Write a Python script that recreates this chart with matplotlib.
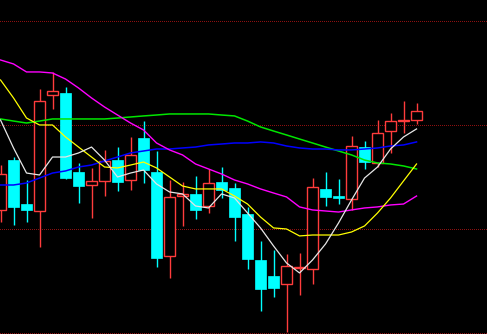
import matplotlib
matplotlib.use("Agg")
import matplotlib.pyplot as plt
from matplotlib.patches import Rectangle
import numpy as np

# K线数据 (开, 高, 低, 收)
opens = [21.83, 26.63, 22.40, 21.73, 32.88, 33.08, 25.48, 24.23, 24.62, 26.63,
         24.71, 28.75, 25.48, 17.40, 23.17, 23.37, 22.21, 24.52, 23.94, 21.44,
         17.02, 15.48, 14.71, 16.25, 16.15, 23.85, 23.17, 22.88, 27.88, 26.35,
         29.42, 30.38, 30.48]
highs = [26.15, 26.92, 24.71, 33.46, 35.10, 33.65, 26.35, 25.87, 27.60, 27.88,
         28.85, 30.38, 27.50, 24.71, 24.52, 25.10, 25.77, 25.96, 24.42, 22.12,
         18.85, 17.98, 17.60, 17.69, 24.90, 25.48, 24.81, 28.94, 28.46, 30.48,
         31.15, 32.31, 32.12]
lows = [20.67, 20.38, 20.67, 18.27, 31.54, 24.81, 22.50, 21.06, 23.17, 23.65,
        23.75, 24.42, 16.35, 15.29, 20.29, 20.96, 21.54, 22.98, 18.85, 16.15,
        12.12, 13.46, 10.10, 13.65, 14.71, 22.21, 22.40, 21.83, 25.77, 25.96,
        27.31, 29.23, 30.10]
closes = [25.29, 22.12, 21.83, 32.31, 33.27, 24.90, 24.13, 24.62, 26.54, 24.52,
          27.12, 25.67, 17.21, 23.08, 23.37, 21.83, 24.42, 23.75, 21.15, 17.12,
          14.23, 14.33, 16.44, 16.35, 24.04, 23.08, 22.98, 27.98, 26.44, 29.23,
          30.38, 30.48, 31.35]

# 均线
ma5 = [30.48, 27.79, 25.38, 25.19, 26.92, 26.92, 27.31, 27.88, 26.63, 25.00,
       25.38, 25.67, 24.33, 23.56, 23.37, 22.21, 22.02, 23.37, 22.98, 21.54,
       20.10, 18.37, 16.73, 15.77, 17.02, 18.56, 20.58, 22.79, 24.90, 25.96,
       27.69, 28.85, 29.62]
ma10 = [34.33, 32.60, 30.67, 30.00, 30.00, 28.85, 27.88, 26.92, 25.96, 25.87,
        26.15, 26.44, 25.87, 25.00, 24.13, 23.85, 23.85, 23.85, 23.17, 22.40,
        21.15, 20.10, 20.00, 19.33, 19.42, 19.42, 19.42, 19.71, 20.29, 21.54,
        22.98, 24.62, 26.25]
ma20 = [36.25, 35.87, 35.10, 35.10, 35.00, 34.42, 33.56, 32.60, 31.73, 30.96,
        30.19, 29.52, 28.27, 27.60, 27.12, 26.25, 25.77, 25.29, 24.71, 24.33,
        23.85, 23.46, 23.08, 22.12, 21.83, 21.73, 21.63, 21.83, 22.02, 22.12,
        22.31, 22.40, 23.17]
ma60 = [30.58, 30.38, 30.19, 30.38, 30.58, 30.58, 30.58, 30.58, 30.58, 30.67,
        30.77, 30.87, 30.96, 31.06, 31.06, 31.06, 31.06, 30.96, 30.87, 30.38,
        29.81, 29.42, 29.04, 28.65, 28.27, 27.88, 27.50, 27.12, 26.63, 26.35,
        26.25, 26.06, 25.77]
ma30 = [24.23, 24.23, 24.42, 24.90, 25.38, 25.58, 25.96, 26.15, 26.54, 26.92,
        27.31, 27.50, 27.69, 27.69, 27.79, 27.88, 28.08, 28.17, 28.27, 28.27,
        28.37, 28.27, 27.98, 27.79, 27.69, 27.69, 27.60, 27.60, 27.69, 27.79,
        27.98, 28.08, 28.37]
grid_levels = [10, 20, 30, 40]

RED = '#ff3c3c'
CYAN = '#00ffff'

fig = plt.figure(figsize=(4.87, 3.34), dpi=100, facecolor='black')
ax = fig.add_axes([0, 0, 1, 1])
ax.set_facecolor('black')

# 网格线 (暗红点线)
for g in grid_levels:
    ax.axhline(g, color='#8c1010', lw=0.72, ls=(0, (1, 1.5)),
               antialiased=False, zorder=0)

w = 0.82
x = np.arange(len(opens))
for i in x:
    o, h, l, c = opens[i], highs[i], lows[i], closes[i]
    if c >= o:
        # 阳线: 空心红
        ax.vlines(i, l, o, color=RED, lw=1, zorder=2)
        ax.vlines(i, c, h, color=RED, lw=1, zorder=2)
        ax.add_patch(Rectangle((i - w / 2, o), w, max(c - o, 0.02),
                               facecolor='black', edgecolor=RED, lw=1, zorder=3))
    else:
        # 阴线: 实心青
        ax.vlines(i, l, h, color=CYAN, lw=1, zorder=2)
        ax.add_patch(Rectangle((i - w / 2, c), w, o - c,
                               facecolor=CYAN, edgecolor=CYAN, lw=0.5, zorder=3))

ax.plot(x, ma60, color='#00e600', lw=1.1, zorder=4)
ax.plot(x, ma30, color='#0000ff', lw=1.1, zorder=4)
ax.plot(x, ma20, color='#ff00ff', lw=1.0, zorder=4)
ax.plot(x, ma10, color='#ffff00', lw=0.9, zorder=4)
ax.plot(x, ma5, color='#e6e6e6', lw=0.9, zorder=5)

ax.set_xlim(-0.04, 37.42)
ax.set_ylim(9.9, 42.02)
ax.axis('off')

fig.savefig('out.png', dpi=100, facecolor='black')
